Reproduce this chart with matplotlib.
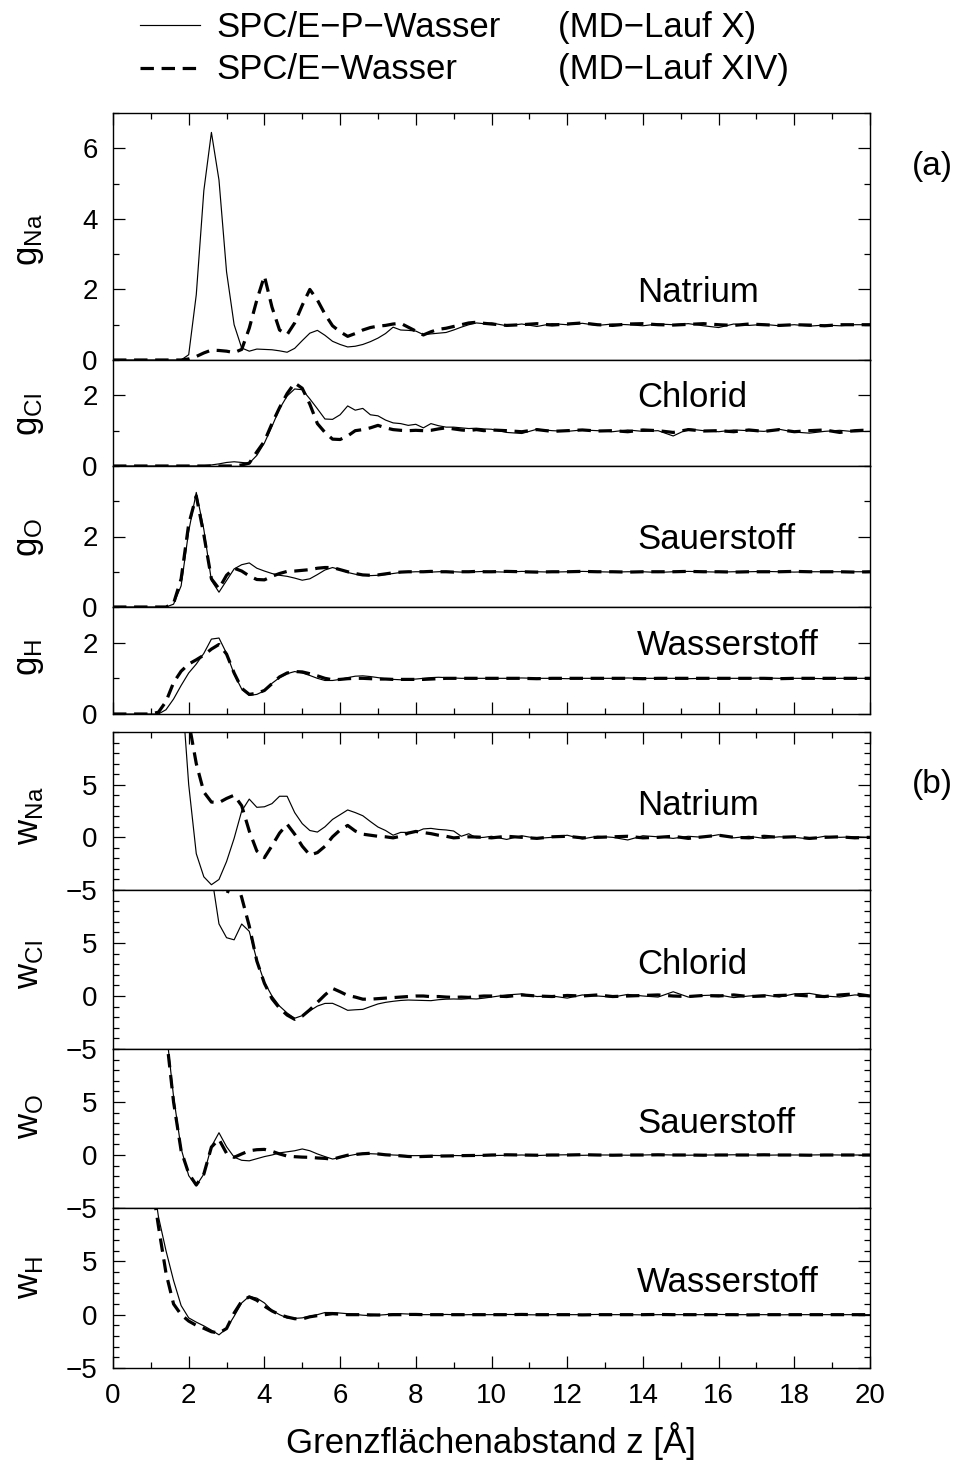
import numpy as np
import matplotlib
matplotlib.use("Agg")
import matplotlib.pyplot as plt
from matplotlib.lines import Line2D
from matplotlib.ticker import MultipleLocator, FixedLocator

plt.rcParams['font.family'] = ['Liberation Sans', 'DejaVu Sans']
plt.rcParams['mathtext.fontset'] = 'custom'
plt.rcParams['mathtext.rm'] = 'Liberation Sans'
plt.rcParams['mathtext.it'] = 'Liberation Sans:italic'

W, H = 958, 1463
nan = float('nan')

# distance from the interface z [A]: fine grid near the wall, coarser further out
z = np.concatenate([np.linspace(0, 9.8, 50), np.linspace(10, 20, 26)])

# ---- (a) density profiles g(z) ----
gna_p = [0, 0, 0, 0, 0, 0, 0, 0, 0, 0,
         0.15, 1.85, 4.8, 6.45, 5.1, 2.5, 1.0, 0.34, 0.25, 0.31,
         0.30, 0.29, 0.26, 0.22, 0.33, 0.55, 0.76, 0.84, 0.70, 0.53,
         0.44, 0.37, 0.39, 0.44, 0.52, 0.62, 0.75, 0.93, 0.85, 0.84,
         0.82, 0.72, 0.74, 0.76, 0.78, 0.85, 0.93, 1.00, 1.05, 1.03,
         1.05, 0.97, 1.02, 0.95, 1.03, 1.00, 1.04, 0.98, 1.02, 1.00,
         0.97, 1.02, 1.00, 1.03, 0.97, 0.92, 1.02, 0.98, 1.01, 0.97,
         1.00, 0.96, 0.99, 0.97, 1.00, 1.00]
gna_e = [0, 0, 0, 0, 0, 0, 0, 0, 0, 0,
         0.03, 0.10, 0.20, 0.28, 0.27, 0.25, 0.21, 0.30, 0.90, 1.70,
         2.38, 1.50, 0.85, 0.72, 1.05, 1.55, 2.00, 1.70, 1.30, 0.97,
         0.80, 0.67, 0.75, 0.85, 0.92, 0.96, 0.98, 1.02, 1.04, 0.93,
         0.82, 0.71, 0.80, 0.87, 0.90, 0.95, 1.00, 1.05, 1.07, 1.04,
         1.02, 0.98, 1.00, 1.03, 0.99, 1.02, 1.05, 1.00, 0.98, 1.02,
         1.03, 1.00, 0.99, 1.01, 1.03, 1.00, 0.98, 1.02, 1.00, 0.98,
         1.00, 0.99, 0.97, 1.00, 1.00, 1.00]

gcl_p = [0, 0, 0, 0, 0, 0, 0, 0, 0, 0,
         0, 0, 0.01, 0.03, 0.06, 0.10, 0.12, 0.10, 0.08, 0.30,
         0.65, 1.12, 1.62, 1.98, 2.18, 2.16, 1.90, 1.62, 1.33, 1.32,
         1.45, 1.70, 1.58, 1.63, 1.45, 1.42, 1.30, 1.22, 1.20, 1.15,
         1.18, 1.08, 1.20, 1.14, 1.10, 1.10, 1.08, 1.06, 1.07, 1.05,
         1.04, 0.95, 0.92, 1.04, 1.00, 0.98, 1.02, 1.00, 0.97, 1.02,
         0.98, 1.00, 0.85, 1.05, 1.00, 0.97, 1.02, 1.00, 0.98, 1.04,
         0.96, 0.93, 0.98, 1.01, 0.97, 0.98]
gcl_e = [0, 0, 0, 0, 0, 0, 0, 0, 0, 0,
         0, 0, 0, 0, 0, 0, 0, 0.03, 0.08, 0.40,
         0.70, 1.20, 1.65, 2.05, 2.35, 2.20, 1.75, 1.20, 0.95, 0.76,
         0.75, 0.85, 1.00, 1.03, 1.08, 1.15, 1.08, 1.03, 1.01, 1.00,
         1.01, 1.00, 1.01, 1.05, 1.08, 1.05, 1.02, 1.00, 1.03, 1.00,
         1.02, 1.00, 0.97, 1.03, 0.98, 1.00, 1.02, 0.99, 1.00, 0.97,
         1.02, 1.00, 0.95, 1.03, 0.99, 1.00, 0.97, 1.02, 0.98, 1.03,
         0.97, 1.00, 1.02, 0.95, 1.00, 1.02]

go_p = [0, 0, 0, 0, 0, 0, 0, 0, 0.08, 0.60,
        2.15, 3.25, 2.20, 0.75, 0.42, 0.75, 1.08, 1.20, 1.25, 1.10,
        1.02, 0.95, 0.90, 0.87, 0.82, 0.76, 0.80, 0.92, 1.05, 1.12,
        1.06, 0.98, 0.93, 0.90, 0.89, 0.90, 0.92, 0.95, 0.98, 0.99,
        1.00, 1.00, 0.99, 1.00, 1.01, 1.00, 0.99, 1.00, 1.00, 1.01,
        1.00, 0.99, 1.01, 1.00, 0.99, 1.00, 1.01, 1.00, 0.99, 1.00,
        1.00, 0.98, 1.00, 1.01, 1.00, 0.99, 1.00, 1.00, 1.01, 1.00,
        0.99, 1.00, 1.00, 1.00, 1.00, 1.00]
go_e = [0, 0, 0, 0, 0, 0, 0, 0, 0.10, 0.80,
        2.35, 3.15, 2.05, 0.80, 0.52, 0.90, 1.10, 1.02, 0.88, 0.78,
        0.77, 0.87, 0.95, 1.01, 1.02, 1.04, 1.06, 1.10, 1.12, 1.12,
        1.06, 1.00, 0.95, 0.91, 0.90, 0.91, 0.94, 0.97, 0.99, 1.00,
        1.00, 1.00, 1.01, 1.00, 1.00, 0.99, 1.00, 1.00, 1.01, 1.00,
        1.00, 1.01, 1.00, 0.99, 1.00, 1.00, 1.01, 1.00, 1.00, 0.99,
        1.00, 1.00, 1.00, 1.01, 1.00, 1.00, 0.99, 1.00, 1.00, 1.00,
        1.01, 1.00, 1.00, 1.00, 0.99, 1.00]

gh_p = [0, 0, 0, 0, 0, 0, 0, 0.12, 0.42, 0.80,
        1.15, 1.40, 1.70, 2.10, 2.13, 1.70, 1.12, 0.70, 0.52, 0.55,
        0.65, 0.86, 1.02, 1.13, 1.19, 1.15, 1.08, 1.00, 0.94, 0.94,
        0.97, 1.02, 1.06, 1.07, 1.05, 1.02, 0.99, 0.97, 0.96, 0.97,
        0.98, 1.00, 1.02, 1.03, 1.02, 1.01, 1.00, 1.00, 1.00, 1.00,
        1.00, 1.00, 1.01, 1.00, 1.00, 0.99, 1.00, 1.00, 1.00, 1.01,
        1.00, 1.00, 1.00, 0.99, 1.00, 1.00, 1.00, 1.00, 1.01, 1.00,
        1.00, 1.00, 0.99, 1.00, 1.00, 1.00]
gh_e = [0, 0, 0, 0, 0, 0, 0.05, 0.35, 0.88, 1.20,
        1.40, 1.52, 1.65, 1.82, 1.95, 1.68, 1.15, 0.72, 0.55, 0.58,
        0.66, 0.85, 1.04, 1.15, 1.19, 1.18, 1.13, 1.07, 1.00, 0.96,
        0.97, 0.99, 1.00, 1.00, 0.99, 0.98, 0.98, 0.97, 0.97, 0.97,
        0.97, 0.97, 0.98, 0.99, 1.00, 1.00, 1.00, 1.00, 1.00, 1.00,
        1.00, 1.00, 1.00, 0.99, 1.00, 1.00, 1.00, 1.00, 1.00, 1.00,
        0.99, 1.00, 1.00, 1.00, 1.00, 1.00, 1.00, 1.00, 1.00, 0.99,
        1.00, 1.00, 1.00, 1.00, 1.00, 1.00]

# ---- (b) potentials of mean force w(z) ----
wna_p = [nan, nan, nan, nan, nan, nan, nan, nan, nan, 15.0,
         5.0, -1.55, -3.75, -4.50, -4.00, -2.30, -0.10, 2.50, 3.63, 2.85,
         2.90, 3.20, 3.90, 3.90, 2.35, 1.30, 0.65, 0.50, 1.00, 1.70,
         2.15, 2.60, 2.35, 2.05, 1.50, 0.98, 0.65, 0.20, 0.47, 0.47,
         0.50, 0.80, 0.85, 0.75, 0.70, 0.60, 0.10, 0.34, -0.05, 0.00,
         0.10, -0.20, 0.15, -0.10, 0.00, 0.20, -0.15, 0.10, 0.00, -0.25,
         0.15, 0.05, -0.10, 0.10, 0.00, 0.25, -0.05, 0.10, -0.10, 0.05,
         0.00, -0.15, 0.10, 0.00, 0.05, 0.00]
wna_e = [nan, nan, nan, nan, nan, nan, nan, nan, nan, 20.0,
         11.0, 7.0, 4.3, 3.35, 3.30, 3.69, 4.00, 3.00, 0.60, -1.30,
         -1.93, -0.80, 0.40, 1.25, 0.30, -0.84, -1.68, -1.45, -0.85, 0.05,
         0.70, 1.13, 0.60, 0.30, 0.20, 0.10, 0.05, -0.05, 0.10, 0.40,
         0.56, 0.45, 0.35, 0.20, 0.10, -0.05, 0.00, 0.05, 0.03, 0.00,
         -0.05, 0.10, 0.00, -0.10, 0.05, 0.10, -0.05, 0.00, 0.05, 0.10,
         -0.05, 0.00, 0.10, -0.10, 0.05, 0.20, 0.00, -0.05, 0.10, 0.00,
         0.05, -0.10, 0.00, 0.05, -0.05, 0.00]

wcl_p = [nan, nan, nan, nan, nan, nan, nan, nan, nan, nan,
         nan, nan, 25.0, 11.5, 6.8, 5.5, 5.3, 6.79, 6.1, 3.4,
         1.3, 0.0, -0.95, -1.6, -2.1, -1.85, -1.4, -0.95, -0.7, -0.69,
         -1.0, -1.35, -1.3, -1.26, -1.0, -0.75, -0.6, -0.5, -0.42, -0.38,
         -0.4, -0.42, -0.44, -0.35, -0.3, -0.28, -0.3, -0.25, -0.28, -0.2,
         -0.10, 0.10, 0.20, -0.05, 0.00, -0.20, 0.10, 0.00, -0.10, 0.15,
         0.00, -0.10, 0.40, -0.10, 0.05, 0.10, -0.15, 0.00, 0.10, -0.10,
         0.20, 0.25, 0.00, -0.10, 0.10, 0.05]
wcl_e = [nan, nan, nan, nan, nan, nan, nan, nan, nan, nan,
         nan, nan, nan, 25.0, 11.0, 9.5, 11.5, 9.3, 6.6, 3.3,
         1.2, -0.25, -1.15, -1.8, -2.2, -1.9, -1.3, -0.6, 0.1, 0.72,
         0.4, 0.05, -0.1, -0.3, -0.3, -0.25, -0.2, -0.15, -0.1, -0.05,
         0.0, 0.0, -0.06, -0.05, -0.1, -0.13, -0.1, -0.13, -0.05, 0.0,
         0.00, -0.05, 0.10, 0.00, -0.05, 0.05, 0.00, 0.10, -0.05, 0.00,
         0.05, 0.10, 0.00, -0.05, 0.05, 0.00, 0.10, -0.05, 0.00, 0.05,
         0.10, 0.00, -0.05, 0.10, 0.20, 0.00]

wo_p = [nan, nan, nan, nan, nan, nan, nan, 12.0, 5.5, 0.6,
        -1.95, -2.9, -1.8, 0.8, 2.1, 0.78, -0.2, -0.5, -0.55, -0.35,
        -0.15, 0.0, 0.2, 0.3, 0.4, 0.57, 0.4, 0.1, -0.15, -0.38,
        -0.25, -0.09, 0.05, 0.16, 0.12, 0.09, 0.05, 0.0, -0.03, -0.06,
        -0.06, -0.05, -0.04, -0.05, -0.06, -0.05, -0.06, -0.05, -0.05, -0.04,
        -0.05, -0.03, 0.00, -0.05, 0.00, 0.02, -0.03, 0.00, 0.00, -0.02,
        0.00, 0.03, 0.00, -0.02, 0.00, 0.00, 0.02, 0.00, -0.02, 0.00,
        0.00, 0.00, 0.02, 0.00, 0.00, 0.00]
wo_e = [nan, nan, nan, nan, nan, nan, nan, 11.5, 5.0, 0.4,
        -1.75, -2.83, -1.8, 0.75, 1.48, 0.16, -0.22, 0.1, 0.4, 0.5,
        0.53, 0.35, 0.1, -0.1, -0.16, -0.2, -0.22, -0.28, -0.32, -0.4,
        -0.2, -0.02, 0.05, 0.12, 0.16, 0.1, 0.02, -0.02, -0.08, -0.14,
        -0.16, -0.14, -0.12, -0.1, -0.09, -0.08, -0.06, -0.05, -0.04, -0.03,
        0.00, 0.02, 0.00, -0.02, 0.00, 0.00, 0.03, 0.00, -0.02, 0.00,
        0.00, 0.02, 0.00, 0.00, -0.02, 0.00, 0.00, 0.00, 0.02, 0.00,
        0.00, -0.02, 0.00, 0.00, 0.00, 0.00]

wh_p = [nan, nan, nan, nan, nan, 14.0, 9.2, 6.0, 3.2, 0.85,
        -0.3, -0.7, -1.05, -1.45, -1.89, -1.3, -0.15, 1.1, 1.72, 1.55,
        1.1, 0.4, 0.0, -0.31, -0.35, -0.3, -0.15, 0.0, 0.2, 0.2,
        0.15, 0.09, 0.02, -0.05, -0.09, -0.05, 0.0, 0.08, 0.09, 0.06,
        0.03, 0.0, 0.0, 0.0, 0.02, 0.0, -0.02, 0.0, 0.0, 0.0,
        0.00, 0.02, 0.00, -0.02, 0.00, 0.00, 0.00, 0.02, 0.00, 0.00,
        -0.02, 0.00, 0.00, 0.00, 0.00, 0.02, 0.00, 0.00, 0.00, -0.02,
        0.00, 0.00, 0.00, 0.00, 0.00, 0.00]
wh_e = [nan, nan, nan, nan, nan, 13.0, 8.3, 3.9, 1.0, 0.0,
        -0.6, -1.0, -1.28, -1.6, -1.72, -1.3, 0.15, 1.26, 1.67, 1.35,
        0.8, 0.35, 0.0, -0.22, -0.38, -0.4, -0.2, -0.09, 0.0, 0.09,
        0.05, 0.0, 0.0, 0.0, -0.02, -0.03, -0.02, 0.0, 0.0, 0.02,
        0.02, 0.0, 0.0, 0.0, 0.0, 0.0, 0.0, 0.0, 0.0, 0.0,
        0.00, 0.00, 0.02, 0.00, 0.00, 0.00, -0.02, 0.00, 0.00, 0.00,
        0.00, 0.02, 0.00, 0.00, 0.00, 0.00, 0.00, -0.02, 0.00, 0.00,
        0.00, 0.00, 0.00, 0.00, 0.00, 0.00]

ions = ['Natrium', 'Chlorid', 'Sauerstoff', 'Wasserstoff']
subs = ['Na', 'Cl', 'O', 'H']

# panel layout in pixels: (top, bottom)
g_rows = [(113, 360), (360, 466), (466, 607), (607, 714)]
w_rows = [(732, 890), (890, 1049), (1049, 1208), (1208, 1368)]
g_top = [7, 3, 4, 3]
g_label_y = [240, 415, 537, 657]
w_label_y = [816, 965, 1116, 1278]
name_base_g = [302, 407, 549, 655]
name_base_w = [815, 974, 1133, 1292]

X0, X1 = 113, 870

fig = plt.figure(figsize=(W / 100, H / 100), dpi=100)


def fx(px):
    return px / W


def fy(py):
    return 1 - py / H


def make_ax(top, bottom):
    ax = fig.add_axes([fx(X0), fy(bottom), (X1 - X0) / W, (bottom - top) / H])
    ax.set_xlim(0, 20)
    ax.xaxis.set_major_locator(MultipleLocator(2))
    ax.xaxis.set_minor_locator(MultipleLocator(1))
    ax.tick_params(which='both', direction='in', left=True, right=True,
                   top=False, bottom=False, labelbottom=False, width=0.9,
                   labelsize=20, pad=11)
    ax.tick_params(which='major', length=8.5)
    ax.tick_params(which='minor', length=4.3)
    for s in ax.spines.values():
        s.set_linewidth(1.0)
    return ax


def draw(ax, yp, ye):
    ax.plot(z, yp, color='black', lw=0.85)
    ax.plot(z, ye, color='black', lw=2.3, linestyle=(0, (4.2, 2.4)))


g_data = [(gna_p, gna_e), (gcl_p, gcl_e), (go_p, go_e), (gh_p, gh_e)]
w_data = [(wna_p, wna_e), (wcl_p, wcl_e), (wo_p, wo_e), (wh_p, wh_e)]

for i in range(4):
    top, bottom = g_rows[i]
    ax = make_ax(top, bottom)
    draw(ax, *g_data[i])
    ax.set_ylim(0, g_top[i])
    ax.yaxis.set_major_locator(FixedLocator([0, 2, 4, 6] if i == 0 else [0, 2]))
    ax.yaxis.set_minor_locator(MultipleLocator(1))
    if i == 0:
        ax.tick_params(axis='x', which='both', top=True)
    if i == 3:
        ax.tick_params(axis='x', which='both', bottom=True)
    fig.text(fx(29), fy(g_label_y[i]), r'$\mathregular{g_{%s}}$' % subs[i],
             rotation=90, ha='center', va='center', fontsize=25)
    fig.text(fx(637), fy(name_base_g[i]), ions[i], ha='left', va='baseline',
             fontsize=25)

for i in range(4):
    top, bottom = w_rows[i]
    ax = make_ax(top, bottom)
    draw(ax, *w_data[i])
    ax.set_ylim(-5, 10)
    ax.yaxis.set_major_locator(FixedLocator([-5, 0, 5]))
    ax.yaxis.set_minor_locator(MultipleLocator(1))
    if i == 0:
        ax.tick_params(axis='x', which='both', top=True)
    if i == 3:
        ax.tick_params(axis='x', which='both', bottom=True, labelbottom=True)
    fig.text(fx(29), fy(w_label_y[i]), r'$\mathregular{w_{%s}}$' % subs[i],
             rotation=90, ha='center', va='center', fontsize=25)
    fig.text(fx(637), fy(name_base_w[i]), ions[i], ha='left', va='baseline',
             fontsize=25)

fig.text(fx(932), fy(166), '(a)', ha='center', va='center', fontsize=24)
fig.text(fx(932), fy(785), '(b)', ha='center', va='center', fontsize=24)

fig.text(fx(491), fy(1453), 'Grenzflächenabstand z [Å]', ha='center',
         va='baseline', fontsize=25)

# legend drawn by hand in the top margin
fig.add_artist(Line2D([fx(140), fx(200)], [fy(25), fy(25)], color='black',
                      lw=0.85, transform=fig.transFigure))
fig.add_artist(Line2D([fx(140), fx(200)], [fy(68), fy(68)], color='black',
                      lw=2.3, linestyle=(0, (4.2, 2.4)),
                      transform=fig.transFigure))
fig.text(fx(216), fy(37), 'SPC/E−P−Wasser', ha='left', va='baseline', fontsize=25)
fig.text(fx(558), fy(37), '(MD−Lauf X)', ha='left', va='baseline', fontsize=25)
fig.text(fx(216), fy(79), 'SPC/E−Wasser', ha='left', va='baseline', fontsize=25)
fig.text(fx(558), fy(79), '(MD−Lauf XIV)', ha='left', va='baseline', fontsize=25)

fig.savefig('out.png', dpi=100)
